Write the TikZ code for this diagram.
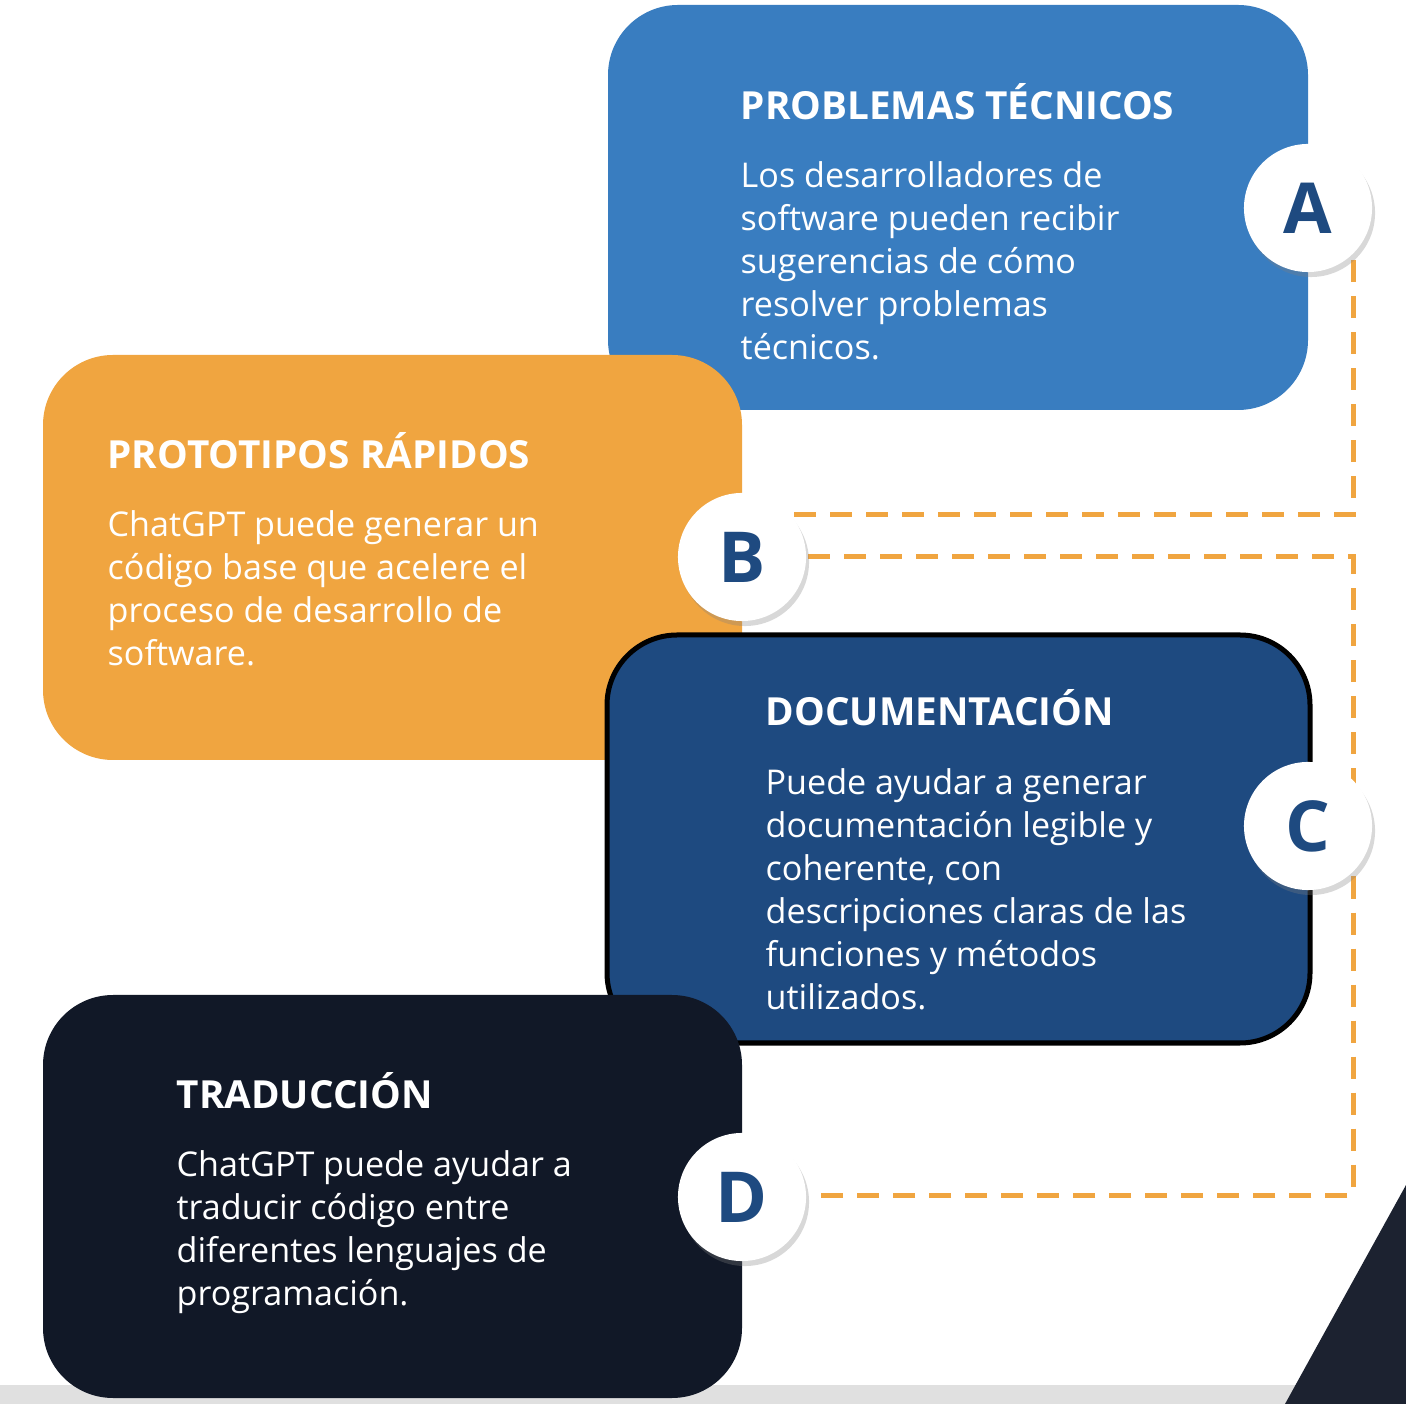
\documentclass[tikz,border=0pt]{standalone}
\usepackage{fontspec}
\setmainfont{Open Sans}
\usetikzlibrary{shadows}
\definecolor{cA}{HTML}{397DC0}
\definecolor{cB}{HTML}{F0A540}
\definecolor{cC}{HTML}{1E4A80}
\definecolor{cD}{HTML}{111827}
\definecolor{dash}{HTML}{F0A540}
\tikzset{
 card/.style={rounded corners=0.7cm},
 ttl/.style={anchor=base west, font=\fontsize{11}{13}\selectfont\bfseries, text=white, inner sep=0},
 body/.style={anchor=north west, font=\fontsize{9.7}{12.2}\selectfont, text=white, align=left, inner sep=0},
 badge/.style={circle, fill=white, minimum size=1.28cm, inner sep=0, text=cC, font=\fontsize{20}{20}\selectfont\bfseries, drop shadow={shadow xshift=0.03cm, shadow yshift=-0.05cm, opacity=0.3}},
 dl/.style={draw=dash, line width=0.05cm, dash pattern=on 0.22cm off 0.14cm}
}
\begin{document}
\begin{tikzpicture}[x=0.01cm,y=-0.01cm]
\useasboundingbox (0,0) rectangle (1406,1404);
\fill[white] (0,0) rectangle (1406,1404);
\fill[black!12!white] (0,1385) rectangle (1406,1404);
\fill[cD!90!gray] (1406,1185) -- (1406,1404) -- (1285,1404) -- cycle;
% dashed connectors
\coordinate (a1) at (1353,260); \coordinate (a2) at (1353,515); \coordinate (a3) at (790,515);
\coordinate (b1) at (808,557); \coordinate (b2) at (1353,557); \coordinate (b3) at (1353,1195); \coordinate (b4) at (808,1195);
\draw[dl] (a1) -- (a2) -- (a3);
\draw[dl] (b1) -- (b2) -- (b3) -- (b4);
% cards
\fill[cA, card] (608,5) rectangle (1308,410);
\fill[cB, card] (43,355) rectangle (742,760);
\draw[fill=cC, draw=black, line width=0.05cm, card] (607,635) rectangle (1310,1043);
\fill[cD, card] (43,995) rectangle (742,1398);
% texts
\node[ttl] (tA) at (740,120) {PROBLEMAS TÉCNICOS};
\node[body] (xA) at (740,161) {Los desarrolladores de\\software pueden recibir\\sugerencias de cómo\\resolver problemas\\técnicos.};
\node[ttl] (tB) at (107,469) {PROTOTIPOS RÁPIDOS};
\node[body] (xB) at (107,510) {ChatGPT puede generar un\\código base que acelere el\\proceso de desarrollo de\\software.};
\node[ttl] (tC) at (765,726) {DOCUMENTACIÓN};
\node[body] (xC) at (765,768) {Puede ayudar a generar\\documentación legible y\\coherente, con\\descripciones claras de las\\funciones y métodos\\utilizados.};
\node[ttl] (tD) at (176,1108) {TRADUCCIÓN};
\node[body] (xD) at (176,1150) {ChatGPT puede ayudar a\\traducir código entre\\diferentes lenguajes de\\programación.};
% badges
\node[badge] (A) at (1308,208) {A};
\node[badge] (B) at (742,557) {B};
\node[badge] (C) at (1308,826) {C};
\node[badge] (D) at (742,1197) {D};
\end{tikzpicture}
\end{document}
